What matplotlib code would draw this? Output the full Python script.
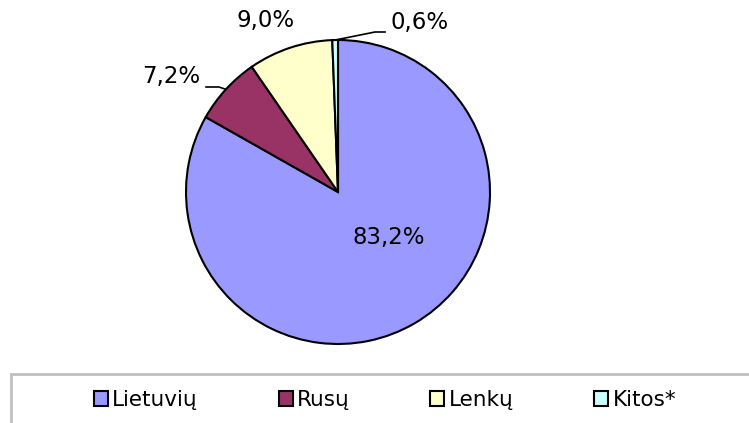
import matplotlib
matplotlib.use('Agg')
import matplotlib.pyplot as plt
import numpy as np
from matplotlib.patches import Rectangle

categories = ['Lietuvių', 'Rusų', 'Lenkų', 'Kitos*']
values = [83.2, 7.2, 9.0, 0.6]
labels = ['83,2%', '7,2%', '9,0%', '0,6%']
colors = ['#9999FF', '#993366', '#FFFFCC', '#CCFFFF']

W, H = 749, 423
cx, cy, R = 338, 192, 152

def px(x, y):
    return ((x - cx) / R, (cy - y) / R)

fig = plt.figure(figsize=(W / 100, H / 100), dpi=100)
ax = fig.add_axes([0, 0, 1, 1])
wedges, _ = ax.pie(values, colors=colors, startangle=90, counterclock=False,
                   radius=1, center=(0, 0),
                   wedgeprops=dict(edgecolor='black', linewidth=1.5))
ax.set_xlim(-cx / R, (W - cx) / R)
ax.set_ylim(-(H - cy) / R, cy / R)
ax.set_aspect('auto')
ax.axis('off')

label_pos = [(389, 237), (171, 76), (266, 21), (420, 22)]
for lab, pos in zip(labels, label_pos):
    x, y = px(*pos)
    ax.text(x, y, lab, ha='center', va='center', fontsize=16.5, color='black')

def edge(w):
    a = np.deg2rad((w.theta1 + w.theta2) / 2)
    return (np.cos(a), np.sin(a))

leaders = {1: [(206, 87), (219, 87)], 3: [(385, 32), (375, 32)]}
for i, pts in leaders.items():
    xs = [px(*p)[0] for p in pts] + [edge(wedges[i])[0]]
    ys = [px(*p)[1] for p in pts] + [edge(wedges[i])[1]]
    ax.plot(xs, ys, color='black', lw=1.2)

fig.legend(handles=wedges, labels=categories, ncol=4, loc='center',
           bbox_to_anchor=(385 / W, 1 - 400 / H), frameon=False,
           fontsize=15.5, handlelength=0.65, handleheight=0.65,
           handletextpad=0.2, columnspacing=3.75)

box = Rectangle((11 / W, -0.1), 1.0, (H - 374) / H + 0.1, fill=False,
                edgecolor='#C0C0C0', lw=2, transform=fig.transFigure)
fig.patches.append(box)

fig.savefig('out.png', dpi=100)
